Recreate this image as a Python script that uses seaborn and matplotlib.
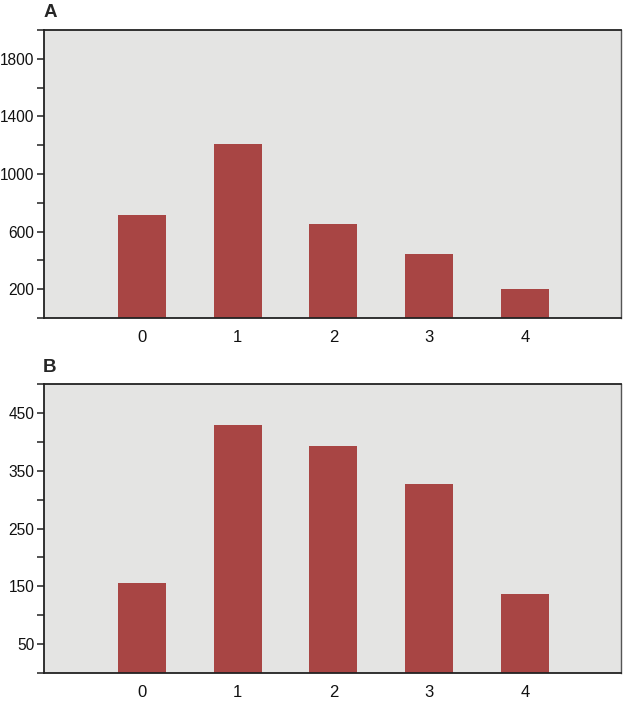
import pandas as pd
import matplotlib
matplotlib.use("Agg")
import matplotlib.pyplot as plt
from matplotlib.ticker import MultipleLocator
import seaborn as sns

# values
categories = [0, 1, 2, 3, 4]
values_a = [714, 1208, 655, 446, 202]
values_b = [156, 430, 394, 328, 136]

sns.set_style("white")
plt.rcParams["font.family"] = ["Liberation Sans", "DejaVu Sans"]

bar_color = "#a84544"
bg_color = "#e4e4e3"

fig = plt.figure(figsize=(6.27, 7.03), dpi=100)
ax_a = fig.add_axes([0.0707, 0.5477, 0.919, 0.4097])
ax_b = fig.add_axes([0.0707, 0.0431, 0.919, 0.4100])

panels = [
    (ax_a, values_a, "A", (0, 2000), 400, 200),
    (ax_b, values_b, "B", (0, 500), 100, 50),
]

for ax, vals, label, ylim, step, first in panels:
    df = pd.DataFrame({"x": categories, "y": vals})
    sns.barplot(data=df, x="x", y="y", ax=ax, color=bar_color,
                saturation=1, width=0.5, edgecolor="none", errorbar=None)
    ax.set_facecolor(bg_color)
    ax.set_xlim(-1.02, 5.0)
    ax.set_ylim(*ylim)
    ax.set_yticks(list(range(first, ylim[1], step)))
    ax.yaxis.set_minor_locator(MultipleLocator(step / 2))
    ax.set_xlabel("")
    ax.set_ylabel("")
    for side in ["left", "bottom", "top", "right"]:
        ax.spines[side].set_visible(True)
        ax.spines[side].set_color("#222222")
        ax.spines[side].set_linewidth(1.3)
    ax.spines["right"].set_color("#555555")
    ax.spines["right"].set_linewidth(1.0)
    ax.tick_params(axis="y", which="both", left=True, length=5, width=1.1,
                   color="#222222", labelsize=11.2, pad=2)
    ax.tick_params(axis="x", length=0, labelsize=12, pad=9)
    for t in ax.get_xticklabels() + ax.get_yticklabels():
        t.set_color("#111111")
    ax.text(-0.002, 1.03, label, transform=ax.transAxes, fontsize=13.5,
            fontweight="bold", ha="left", va="bottom")

fig.savefig("out.png", dpi=100)
